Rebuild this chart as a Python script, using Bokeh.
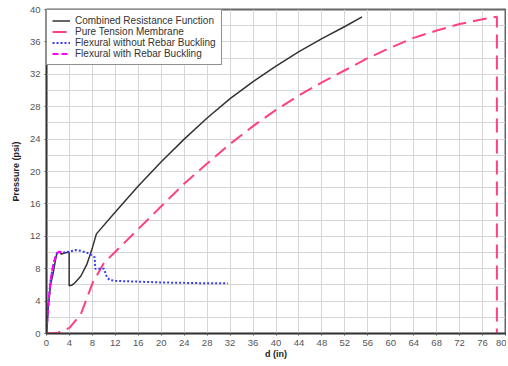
from bokeh.plotting import figure
from bokeh.models import Range1d, FixedTicker, Legend, LegendItem
from bokeh.embed import file_html
from bokeh.resources import INLINE

# ---- data ----
combined_x = [0, 0.3, 0.7, 1.15, 1.5, 1.8, 2.2, 2.6, 3.0, 3.5, 3.95, 3.95, 4.5, 5.0, 6.0, 7.0, 7.5, 8.0, 8.7,
              12, 16, 20, 24, 28, 32, 36, 40, 44, 48, 52, 55]
combined_y = [0, 3.2, 6.0, 7.4, 8.8, 9.9, 10.1, 9.8, 9.9, 10.0, 10.0, 5.9, 6.0, 6.3, 7.1, 8.5, 9.5, 10.6, 12.3,
              15.0, 18.2, 21.2, 24.0, 26.6, 29.0, 31.1, 33.0, 34.8, 36.4, 37.9, 39.1]

membrane_x = [0, 2, 4, 6, 8, 10, 12, 16, 20, 24, 28, 32, 36, 40, 44, 48, 52, 56, 60, 64, 68, 72, 76, 78.5, 78.5]
membrane_y = [0, 0.1, 0.7, 2.4, 6.2, 8.7, 10.1, 12.9, 15.7, 18.5, 21.0, 23.4, 25.6, 27.6, 29.4, 31.0, 32.5,
              34.0, 35.3, 36.5, 37.4, 38.2, 38.8, 39.1, 0]

flex_nb_x = [0, 0.3, 0.7, 1.1, 1.5, 1.8, 2.2, 3.0, 4.0, 5.0, 6.0, 7.0, 8.0, 8.4, 8.5, 10.0, 10.5, 11.0, 12, 16,
             20, 24, 28, 31.6]
flex_nb_y = [0, 3.5, 6.5, 8.2, 9.3, 9.9, 10.1, 10.0, 10.1, 10.3, 10.2, 10.0, 9.6, 9.4, 8.0, 8.0, 7.0, 6.6, 6.5,
             6.4, 6.3, 6.25, 6.2, 6.2]

flex_b_x = [0, 0.3, 0.7, 1.1, 1.5, 1.8, 2.2, 2.6]
flex_b_y = [0, 3.5, 6.5, 8.2, 9.3, 9.9, 10.1, 10.0]

x_ticks = [0, 4, 8, 12, 16, 20, 24, 28, 32, 36, 40, 44, 48, 52, 56, 60, 64, 68, 72, 76, 80]
y_ticks = [0, 4, 8, 12, 16, 20, 24, 28, 32, 36, 40]
y_grid = [0, 2, 4, 6, 8, 10, 12, 14, 16, 18, 20, 22, 24, 26, 28, 30, 32, 34, 36, 38, 40]

FONT = "Liberation Sans"

p = figure(width=506, height=361, output_backend="svg", toolbar_location=None,
           x_range=Range1d(0, 80), y_range=Range1d(0, 40),
           min_border_left=46, min_border_right=1, min_border_top=9, min_border_bottom=28)

p.background_fill_color = "white"
p.border_fill_color = "white"
p.outline_line_color = "#666666"
p.outline_line_width = 2

p.xaxis.ticker = FixedTicker(ticks=x_ticks)
p.yaxis.ticker = FixedTicker(ticks=y_ticks)
p.xgrid.ticker = FixedTicker(ticks=x_ticks)
p.ygrid.ticker = FixedTicker(ticks=y_grid)
for g in (p.xgrid, p.ygrid):
    g.grid_line_color = "#d6d6d6"
    g.grid_line_width = 1

for ax in (p.xaxis, p.yaxis):
    ax.axis_line_color = "#333333"
    ax.axis_line_width = 1.5
    ax.major_tick_out = 2
    ax.major_tick_in = 0
    ax.minor_tick_out = 0
    ax.minor_tick_in = 0
    ax.major_tick_line_color = "#555555"
    ax.major_label_text_font = FONT
    ax.major_label_text_font_size = "9.5px"
    ax.major_label_text_color = "#555555"
    ax.major_label_standoff = 4
    ax.axis_label_text_font = FONT
    ax.axis_label_text_font_size = "9px"
    ax.axis_label_text_font_style = "bold"
    ax.axis_label_text_color = "#222222"

p.xaxis.axis_label_standoff = 0
p.yaxis.axis_label_standoff = 6
p.xaxis.axis_label = "d (in)"
p.yaxis.axis_label = "Pressure (psi)"

r1 = p.line(combined_x, combined_y, line_color="#333333", line_width=1.5)
r2 = p.line(membrane_x, membrane_y, line_color="#ff4081", line_width=2, line_dash="14 7")
r3 = p.line(flex_nb_x, flex_nb_y, line_color="#3a3aff", line_width=2, line_dash="2 2")
r4 = p.line(flex_b_x, flex_b_y, line_color="#ff00ff", line_width=2, line_dash="6 3")

legend = Legend(items=[
    LegendItem(label="Combined Resistance Function", renderers=[r1]),
    LegendItem(label="Pure Tension Membrane", renderers=[r2]),
    LegendItem(label="Flexural without Rebar Buckling", renderers=[r3]),
    LegendItem(label="Flexural with Rebar Buckling", renderers=[r4]),
], location="top_left")
legend.margin = 0
legend.padding = 5
legend.spacing = 0
legend.label_height = 11
legend.glyph_height = 11
legend.glyph_width = 18
legend.label_standoff = 5
legend.label_text_font = FONT
legend.label_text_font_size = "10px"
legend.label_text_color = "#333333"
legend.border_line_color = "#222222"
legend.border_line_width = 1.5
legend.background_fill_color = "white"
legend.background_fill_alpha = 1
p.add_layout(legend)

open("out.html", "w").write(file_html(p, INLINE))
